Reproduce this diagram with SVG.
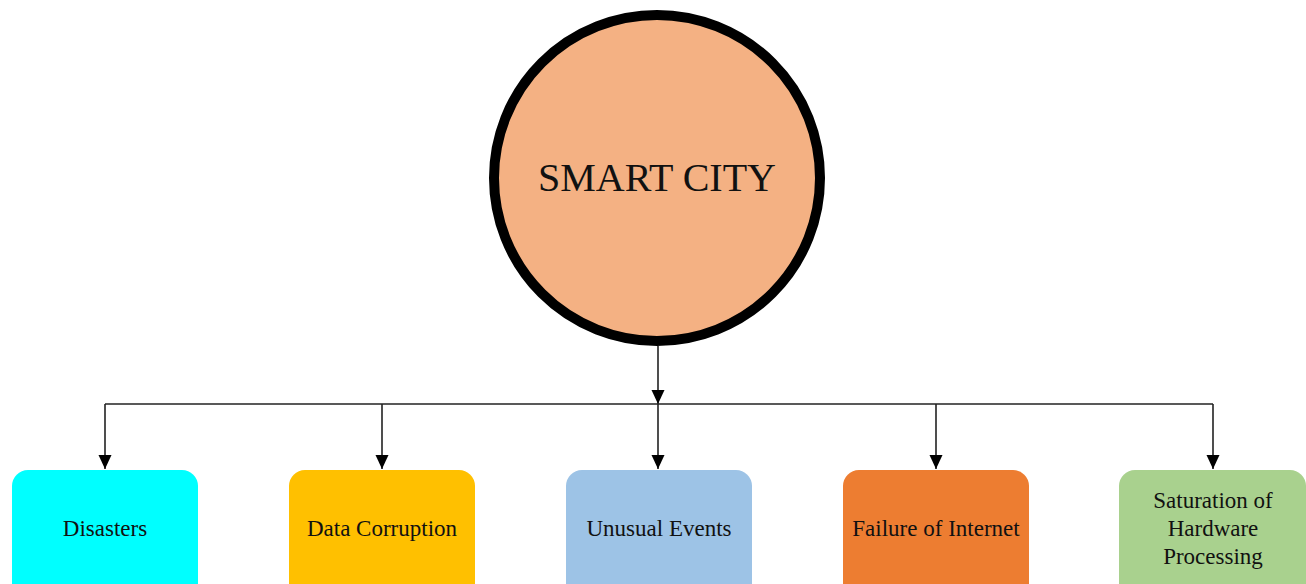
<svg xmlns="http://www.w3.org/2000/svg" width="1306" height="584" viewBox="0 0 1306 584">
<style>
.lbl{font-family:"Liberation Serif","Times New Roman",serif;font-size:23px;fill:#111;text-anchor:middle}
.box{stroke:none}
.ln{stroke:#222;stroke-width:1.6;fill:none}
</style>
<defs>
<marker id="ah" markerUnits="userSpaceOnUse" markerWidth="14" markerHeight="14" refX="14" refY="6.5" orient="auto">
<path d="M0,0 L14,6.5 L0,13 Z" fill="#000"/>
</marker>
</defs>
<rect width="1306" height="584" fill="#fff"/>
<g id="connectors">
<line class="ln" x1="658" y1="346" x2="658" y2="404" marker-end="url(#ah)"/>
<polyline class="ln" points="105,404 1213,404"/>
<line class="ln" x1="105" y1="404" x2="105" y2="469" marker-end="url(#ah)"/>
<line class="ln" x1="382" y1="404" x2="382" y2="469" marker-end="url(#ah)"/>
<line class="ln" x1="658" y1="404" x2="658" y2="469" marker-end="url(#ah)"/>
<line class="ln" x1="936" y1="404" x2="936" y2="469" marker-end="url(#ah)"/>
<line class="ln" x1="1213" y1="404" x2="1213" y2="469" marker-end="url(#ah)"/>
</g>
<g id="smart-city">
<circle cx="657" cy="178" r="163" fill="#F4B183" stroke="#000" stroke-width="10"/>
<text x="657" y="191" style="font-family:'Liberation Serif','Times New Roman',serif;font-size:40px;fill:#111;text-anchor:middle">SMART CITY</text>
</g>
<g id="disasters">
<rect class="box" x="12" y="470" width="186" height="130" rx="16" fill="#00FFFF"/>
<text class="lbl" x="105" y="536">Disasters</text>
</g>
<g id="data-corruption">
<rect class="box" x="289" y="470" width="186" height="130" rx="16" fill="#FFC000"/>
<text class="lbl" x="382" y="536">Data Corruption</text>
</g>
<g id="unusual-events">
<rect class="box" x="566" y="470" width="186" height="130" rx="16" fill="#9DC3E6"/>
<text class="lbl" x="659" y="536">Unusual Events</text>
</g>
<g id="failure-internet">
<rect class="box" x="843" y="470" width="186" height="130" rx="16" fill="#ED7D31"/>
<text class="lbl" x="936" y="536">Failure of Internet</text>
</g>
<g id="saturation">
<rect class="box" x="1119" y="470" width="187" height="130" rx="16" fill="#A9D18E"/>
<text class="lbl" x="1213" y="508">Saturation of</text>
<text class="lbl" x="1213" y="536">Hardware</text>
<text class="lbl" x="1213" y="564">Processing</text>
</g>
</svg>
